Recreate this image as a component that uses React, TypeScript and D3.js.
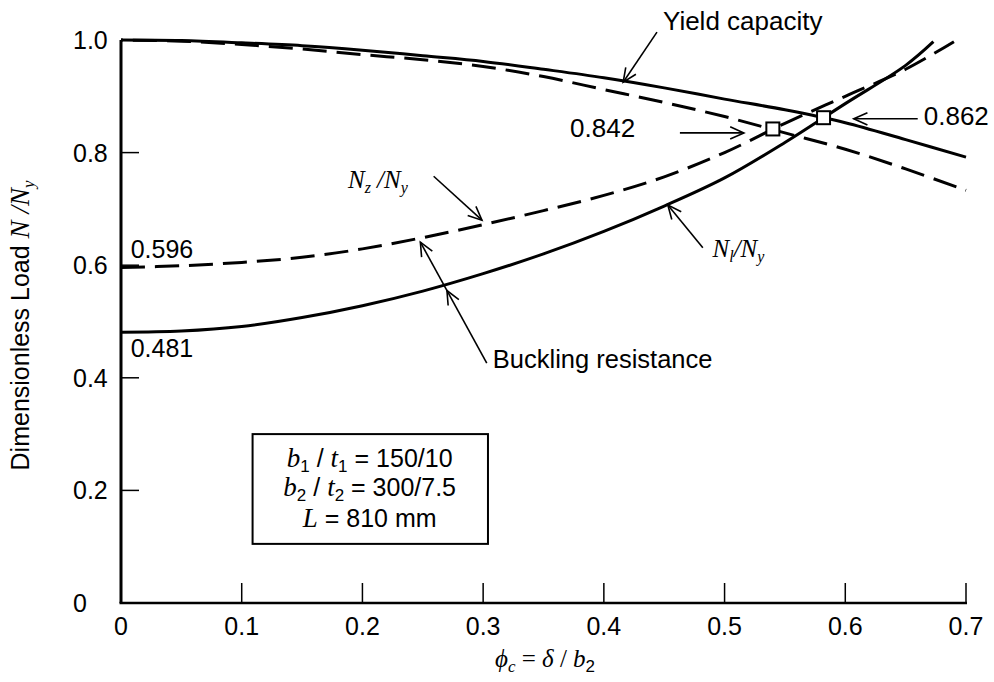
import React from 'react';
import * as d3 from 'd3';

// phi_c values and dimensionless load ratios
const phiYield = [0, 0.05, 0.1, 0.15, 0.2, 0.25, 0.3, 0.35, 0.4, 0.45, 0.5, 0.55, 0.6, 0.65, 0.7];
const yieldSolid = [1.0, 0.999, 0.995, 0.99, 0.982, 0.972, 0.962, 0.948, 0.933, 0.915, 0.895, 0.876, 0.853, 0.823, 0.792];
const yieldDashed = [1.0, 0.998, 0.992, 0.984, 0.974, 0.965, 0.953, 0.935, 0.912, 0.889, 0.864, 0.835, 0.806, 0.771, 0.733];

const phiNz = [0, 0.05, 0.1, 0.15, 0.2, 0.25, 0.3, 0.35, 0.4, 0.45, 0.5, 0.55, 0.6, 0.65, 0.69];
const nzRatio = [0.596, 0.599, 0.605, 0.614, 0.629, 0.649, 0.672, 0.697, 0.724, 0.757, 0.8, 0.852, 0.9, 0.948, 0.997];

const phiNl = [0, 0.05, 0.1, 0.15, 0.2, 0.25, 0.3, 0.35, 0.4, 0.45, 0.5, 0.55, 0.6, 0.65, 0.673];
const nlRatio = [0.481, 0.483, 0.491, 0.507, 0.528, 0.554, 0.585, 0.62, 0.66, 0.705, 0.755, 0.818, 0.887, 0.955, 0.997];

const xTicks = [0, 0.1, 0.2, 0.3, 0.4, 0.5, 0.6, 0.7];
const yTicks = [0, 0.2, 0.4, 0.6, 0.8, 1.0];

// intersection points marked with squares
const crossPhi = [0.54, 0.582];
const crossLoad = [0.842, 0.862];

const sans = "'Liberation Sans', Arial, sans-serif";
const serif = "'Liberation Serif', 'Times New Roman', serif";

const W = 994;
const H = 682;
const margin = { top: 40, right: 28, bottom: 79, left: 121 };

function Arrow({ x1, y1, x2, y2, heads }: { x1: number; y1: number; x2: number; y2: number; heads?: number[] }) {
  const ang = Math.atan2(y2 - y1, x2 - x1);
  const len = 15;
  const spread = 0.42;
  const at = heads || [1];
  return (
    <g stroke="#000" strokeWidth={1.6} fill="none">
      <line x1={x1} y1={y1} x2={x2} y2={y2} />
      {at.map((t, i) => {
        const hx = x1 + (x2 - x1) * t;
        const hy = y1 + (y2 - y1) * t;
        return (
          <path
            key={i}
            d={`M${hx - len * Math.cos(ang - spread)},${hy - len * Math.sin(ang - spread)}L${hx},${hy}L${hx - len * Math.cos(ang + spread)},${hy - len * Math.sin(ang + spread)}`}
          />
        );
      })}
    </g>
  );
}

export default function App() {
  const x = d3.scaleLinear().domain([0, 0.7]).range([margin.left, W - margin.right]);
  const y = d3.scaleLinear().domain([0, 1]).range([H - margin.bottom, margin.top]);

  const line = d3
    .line<[number, number]>()
    .x((d) => x(d[0]))
    .y((d) => y(d[1]))
    .curve(d3.curveCatmullRom.alpha(0.5));

  const zip = (a: number[], b: number[]) => a.map((v, i) => [v, b[i]] as [number, number]);

  const y0 = y(0);
  const x0 = x(0);
  const dash = '24 10';

  return (
    <svg width={W} height={H} style={{ position: 'absolute', left: 0, top: 0, background: '#fff' }}>
      {/* axes */}
      <line x1={x0} y1={y(1)} x2={x0} y2={y0} stroke="#000" strokeWidth={3} />
      <line x1={x0 - 1.5} y1={y0} x2={x(0.7) + 1} y2={y0} stroke="#000" strokeWidth={2.5} />
      {xTicks.slice(1).map((t) => (
        <line key={t} x1={x(t)} x2={x(t)} y1={y0} y2={y0 - 20} stroke="#000" strokeWidth={1.5} />
      ))}
      {yTicks.slice(1, -1).map((t) => (
        <line key={t} x1={x0} x2={x0 + 18} y1={y(t)} y2={y(t)} stroke="#000" strokeWidth={1.5} />
      ))}
      {xTicks.map((t) => (
        <text key={t} x={x(t)} y={y0 + 32} textAnchor="middle" fontFamily={sans} fontSize={25}>
          {t === 0 ? '0' : t.toFixed(1)}
        </text>
      ))}
      {yTicks.map((t) => (
        <text key={t} x={73} y={y(t) + 9} fontFamily={sans} fontSize={25}>
          {t === 0 ? '0' : t.toFixed(1)}
        </text>
      ))}

      {/* axis titles */}
      <text x={545} y={667} textAnchor="middle" fontFamily={serif} fontStyle="italic" fontSize={25}>
        ϕ<tspan fontSize={17} dy={5}>c</tspan>
        <tspan dy={-5} fontStyle="normal"> = </tspan>
        <tspan>δ</tspan>
        <tspan fontStyle="normal"> / </tspan>
        <tspan>b</tspan>
        <tspan fontStyle="normal" fontFamily={sans} fontSize={17} dy={5}>2</tspan>
      </text>
      <text transform={`translate(29,${y(0.5) + 4}) rotate(-90)`} textAnchor="middle" fontFamily={sans} fontSize={25}>
        Dimensionless Load{' '}
        <tspan fontFamily={serif} fontStyle="italic" fontSize={27}>N /N</tspan>
        <tspan fontFamily={serif} fontStyle="italic" fontSize={17} dy={5}>y</tspan>
      </text>

      {/* curves */}
      <path d={line(zip(phiYield, yieldSolid)) || ''} fill="none" stroke="#000" strokeWidth={3} />
      <path d={line(zip(phiYield, yieldDashed)) || ''} fill="none" stroke="#000" strokeWidth={3} strokeDasharray={dash} strokeDashoffset={-12} />
      <path d={line(zip(phiNz, nzRatio)) || ''} fill="none" stroke="#000" strokeWidth={3} strokeDasharray={dash} />
      <path d={line(zip(phiNl, nlRatio)) || ''} fill="none" stroke="#000" strokeWidth={3} />

      {crossPhi.map((p, i) => (
        <rect key={p} x={x(p) - 6.5} y={y(crossLoad[i]) - 6.5} width={13} height={13} fill="#fff" stroke="#000" strokeWidth={2} />
      ))}

      {/* annotations */}
      <text x={x(0.008)} y={y(0.613)} fontFamily={sans} fontSize={25}>0.596</text>
      <text x={x(0.008)} y={y(0.437)} fontFamily={sans} fontSize={25}>0.481</text>

      <text x={x(0.449)} y={y(1.018)} fontFamily={sans} fontSize={26}>Yield capacity</text>
      <Arrow x1={x(0.444)} y1={y(1.014)} x2={x(0.416)} y2={y(0.925)} />

      <text x={x(0.372)} y={y(0.828)} fontFamily={sans} fontSize={26}>0.842</text>
      <Arrow x1={x(0.463)} y1={y(0.835)} x2={x(0.516)} y2={y(0.835)} />

      <text x={x(0.665)} y={y(0.849)} fontFamily={sans} fontSize={26}>0.862</text>
      <Arrow x1={x(0.66)} y1={y(0.86)} x2={x(0.607)} y2={y(0.86)} />

      <text x={x(0.188)} y={y(0.737)} fontFamily={serif} fontStyle="italic" fontSize={25}>
        N<tspan fontSize={16} dy={5}>z</tspan>
        <tspan dy={-5}> /N</tspan>
        <tspan fontSize={16} dy={5}>y</tspan>
      </text>
      <Arrow x1={x(0.259)} y1={y(0.758)} x2={x(0.299)} y2={y(0.68)} />

      <text x={x(0.49)} y={y(0.615)} fontFamily={serif} fontStyle="italic" fontSize={25}>
        N<tspan fontSize={16} dy={5}>l</tspan>
        <tspan dy={-5}>/N</tspan>
        <tspan fontSize={16} dy={5}>y</tspan>
      </text>
      <Arrow x1={x(0.482)} y1={y(0.631)} x2={x(0.453)} y2={y(0.707)} />

      <text x={x(0.308)} y={y(0.417)} fontFamily={sans} fontSize={25.5}>Buckling resistance</text>
      <Arrow x1={x(0.303)} y1={y(0.426)} x2={x(0.248)} y2={y(0.641)} heads={[0.6, 1]} />

      {/* parameter box */}
      <rect x={x(0.109)} y={y(0.3)} width={x(0.304) - x(0.109)} height={y(0.105) - y(0.3)} fill="#fff" stroke="#000" strokeWidth={2} />
      <g fontFamily={sans} fontSize={25} textAnchor="middle">
        <text x={x(0.206)} y={y(0.241)}>
          <tspan fontFamily={serif} fontStyle="italic" fontSize={27}>b</tspan>
          <tspan fontSize={17} dy={5}>1</tspan>
          <tspan dy={-5}> / </tspan>
          <tspan fontFamily={serif} fontStyle="italic" fontSize={27}>t</tspan>
          <tspan fontSize={17} dy={5}>1</tspan>
          <tspan dy={-5}> = 150/10</tspan>
        </text>
        <text x={x(0.206)} y={y(0.19)}>
          <tspan fontFamily={serif} fontStyle="italic" fontSize={27}>b</tspan>
          <tspan fontSize={17} dy={5}>2</tspan>
          <tspan dy={-5}> / </tspan>
          <tspan fontFamily={serif} fontStyle="italic" fontSize={27}>t</tspan>
          <tspan fontSize={17} dy={5}>2</tspan>
          <tspan dy={-5}> = 300/7.5</tspan>
        </text>
        <text x={x(0.206)} y={y(0.135)}>
          <tspan fontFamily={serif} fontStyle="italic" fontSize={27}>L</tspan>
          <tspan> = 810 mm</tspan>
        </text>
      </g>
    </svg>
  );
}
